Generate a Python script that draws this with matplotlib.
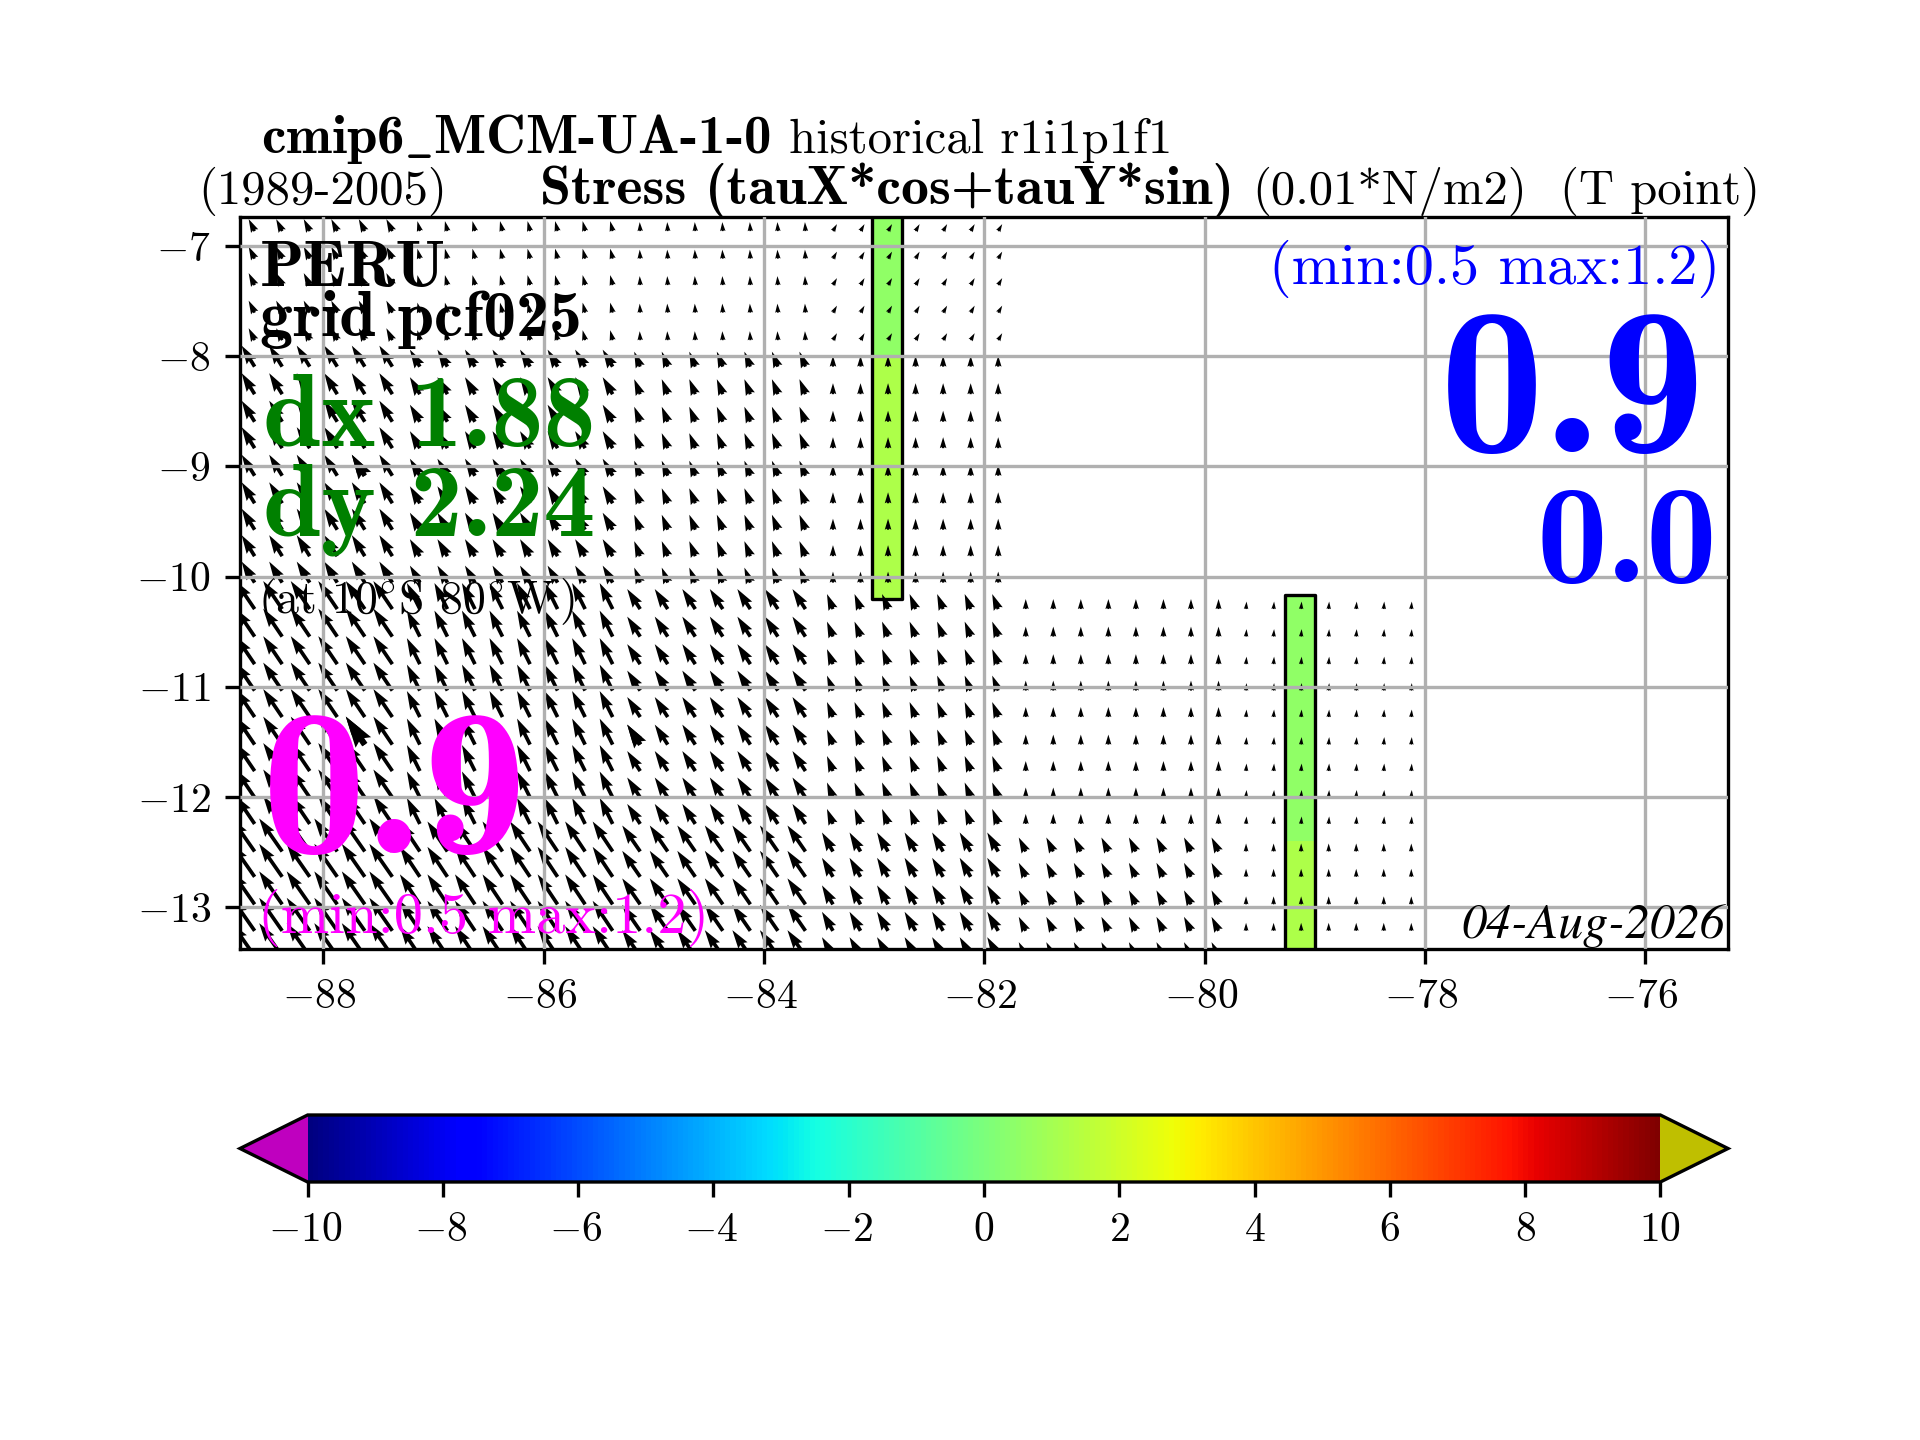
#!/usr/bin/env python3
"""Wind stress map off Peru, quiver on a quarter degree grid."""
import numpy as np
import matplotlib
matplotlib.use('Agg')
import matplotlib.pyplot as plt
from matplotlib.patches import Rectangle
from matplotlib.transforms import ScaledTranslation

plt.rcParams['font.family'] = ['cmr10', 'DejaVu Sans']
plt.rcParams['mathtext.fontset'] = 'cm'
plt.rcParams['axes.formatter.use_mathtext'] = True
plt.rcParams['axes.unicode_minus'] = True

W, H = 1920, 1440

# arrow rows (deg N)
lat_rows = [-6.865, -7.115, -7.355, -7.605, -7.855, -8.095, -8.345, -8.595, -8.835, -9.085,
            -9.335, -9.575, -9.815, -10.055, -10.295, -10.545, -10.795, -11.035, -11.275,
            -11.525, -11.765, -12.005, -12.245, -12.495, -12.725, -12.975, -13.215, -13.445]
lon_start, lon_step = -88.625, 0.25

# coarse model cells: how many rows / columns each one covers on the grid
band_rows = [5, 9, 9, 5]
block_cols = [6, 8, 7, 7, 8, 7]

# stress per coarse cell, north band first, west block first
u_band1 = [-6.0, -2.5, -0.5, 4.0, np.nan, np.nan]
v_band1 = [12.0, 10.0, 9.0, 7.0, np.nan, np.nan]
u_band2 = [-13.0, -10.0, -6.0, 0.0, np.nan, np.nan]
v_band2 = [21.0, 17.0, 15.0, 11.0, np.nan, np.nan]
u_band3 = [-19.0, -13.0, -13.0, -6.0, 0.0, 0.5]
v_band3 = [28.0, 26.0, 20.0, 15.0, 10.0, 7.5]
u_band4 = [-23.0, -20.0, -18.0, -11.0, -7.0, 0.0]
v_band4 = [33.0, 30.0, 26.0, 19.0, 14.0, 8.0]

# the three heavier arrows
thick_lon = [-87.625, -87.625, -85.125]
thick_lat = [-9.085, -11.525, -11.525]
thick_u = [-13.0, -19.0, -13.0]
thick_v = [21.0, 28.0, 20.0]

# ocean points with a value on the shaded columns
bar1_lon = [-83.02, -82.75]
bar1_lat = [-10.20, -8.0, -6.5]
bar1_val = [[1.2], [0.5]]
bar2_lon = [-79.27, -79.0]
bar2_lat = [-13.6, -12.40, -10.17]
bar2_val = [[1.2], [0.5]]

cbar_ticks = [-10, -8, -6, -4, -2, 0, 2, 4, 6, 8, 10]
xticks = [-88, -86, -84, -82, -80, -78, -76]
yticks = [-13, -12, -11, -10, -9, -8, -7]


def px(x, y):
    return x / W, 1 - y / H


def put(x, y, s, size, color='k', fam='cmr10', ha='left', **kw):
    fx, fy = px(x, y)
    fig.text(fx, fy, s, fontsize=size, color=color, family=fam, ha=ha,
             va='baseline', zorder=5, **kw)


def nudge_negative(axis, ticks, dx):
    # usetex centred these labels a little further left
    shift = ScaledTranslation(dx / 300, 0, fig.dpi_scale_trans)
    for lab, val in zip(axis.get_ticklabels(), ticks):
        if val < 0:
            lab.set_transform(lab.get_transform() + shift)


fig = plt.figure(figsize=(6.4, 4.8), dpi=300)
ax = fig.add_axes([240 / W, 1 - 949 / H, 1488 / W, 732 / H])

cmap = plt.get_cmap('jet').copy()
cmap.set_under((0.75, 0, 0.75))
cmap.set_over((0.75, 0.75, 0))

mesh = ax.pcolormesh(bar1_lon, bar1_lat, bar1_val, cmap=cmap, vmin=-10, vmax=10, zorder=0)
ax.pcolormesh(bar2_lon, bar2_lat, bar2_val, cmap=cmap, vmin=-10, vmax=10, zorder=0)
for blon, blat in [(bar1_lon, bar1_lat), (bar2_lon, bar2_lat)]:
    ax.add_patch(Rectangle((blon[0], blat[0]), blon[1] - blon[0], blat[-1] - blat[0],
                           fill=False, ec='k', lw=0.8, joinstyle='round', zorder=0.5))

# expand the coarse cells onto the arrow grid
u_tab = np.array([u_band1, u_band2, u_band3, u_band4])
v_tab = np.array([v_band1, v_band2, v_band3, v_band4])
U = np.repeat(np.repeat(u_tab, band_rows, axis=0), block_cols, axis=1)
V = np.repeat(np.repeat(v_tab, band_rows, axis=0), block_cols, axis=1)
lons = lon_start + lon_step * np.arange(U.shape[1])
X, Y = np.meshgrid(lons, lat_rows)
ax.quiver(X, Y, np.ma.masked_invalid(U), np.ma.masked_invalid(V), pivot='tail',
          angles='uv', scale=1488, scale_units='width', width=0.0025, zorder=1)
ax.quiver(thick_lon, thick_lat, thick_u, thick_v, pivot='tail', angles='uv',
          scale=1488, scale_units='width', width=0.0042, zorder=1)

ax.set_xlim(-88.758, -75.25)
ax.set_ylim(-13.38, -6.737)
ax.set_xticks(xticks)
ax.set_yticks(yticks)
ax.grid(True)
ax.set_axisbelow(False)
nudge_negative(ax.xaxis, xticks, -4)

# axes box spans the triangles too
cax = fig.add_axes([240 / W, 1 - 1182 / H, 1488 / W, 67 / H])
cb = fig.colorbar(mesh, cax=cax, orientation='horizontal', extend='both')
cb.set_ticks(cbar_ticks)
nudge_negative(cax.xaxis, cbar_ticks, -2)

# titles
put(261, 153, r'cmip6$\_$MCM-UA-1-0', 13.2, fam='cmb10')
put(789, 153, 'historical r1i1p1f1', 11.7)
put(198, 204, '(1989-2005)', 11.7)
put(540, 204, 'Stress (tauX*cos+tauY*sin)', 13.4, fam='cmb10')
put(1252, 204, '(0.01*N/m2)', 11.7)
put(1560, 204, '(T point)', 11.7)

# labels inside the map
put(260, 286, 'PERU', 15.6, fam='cmb10')
put(260, 336, 'grid pcf025', 15.8, fam='cmb10')
put(263, 446, 'dx 1.88', 25, color='g', fam='cmb10')
put(263, 535, 'dy 2.24', 25, color='g', fam='cmb10')
put(258, 613, r'(at 10$^{\circ}$S 80$^{\circ}$W$\,$)', 11)
put(262, 853, '0.9', 50, color='#ff00ff', fam='cmb10')
put(258, 933, '(min:0.5 max:1.2)', 14, color='#ff00ff')
put(1269, 284, '(min:0.5 max:1.2)', 14, color='b')
put(1440, 452, '0.9', 50, color='b', fam='cmb10')
put(1537, 582, '0.0', 34, color='b', fam='cmb10')
put(1725, 938, '04-Aug-2026', 12, fam='STIXGeneral', ha='right', style='italic')

fig.savefig('out.png', dpi=300)
